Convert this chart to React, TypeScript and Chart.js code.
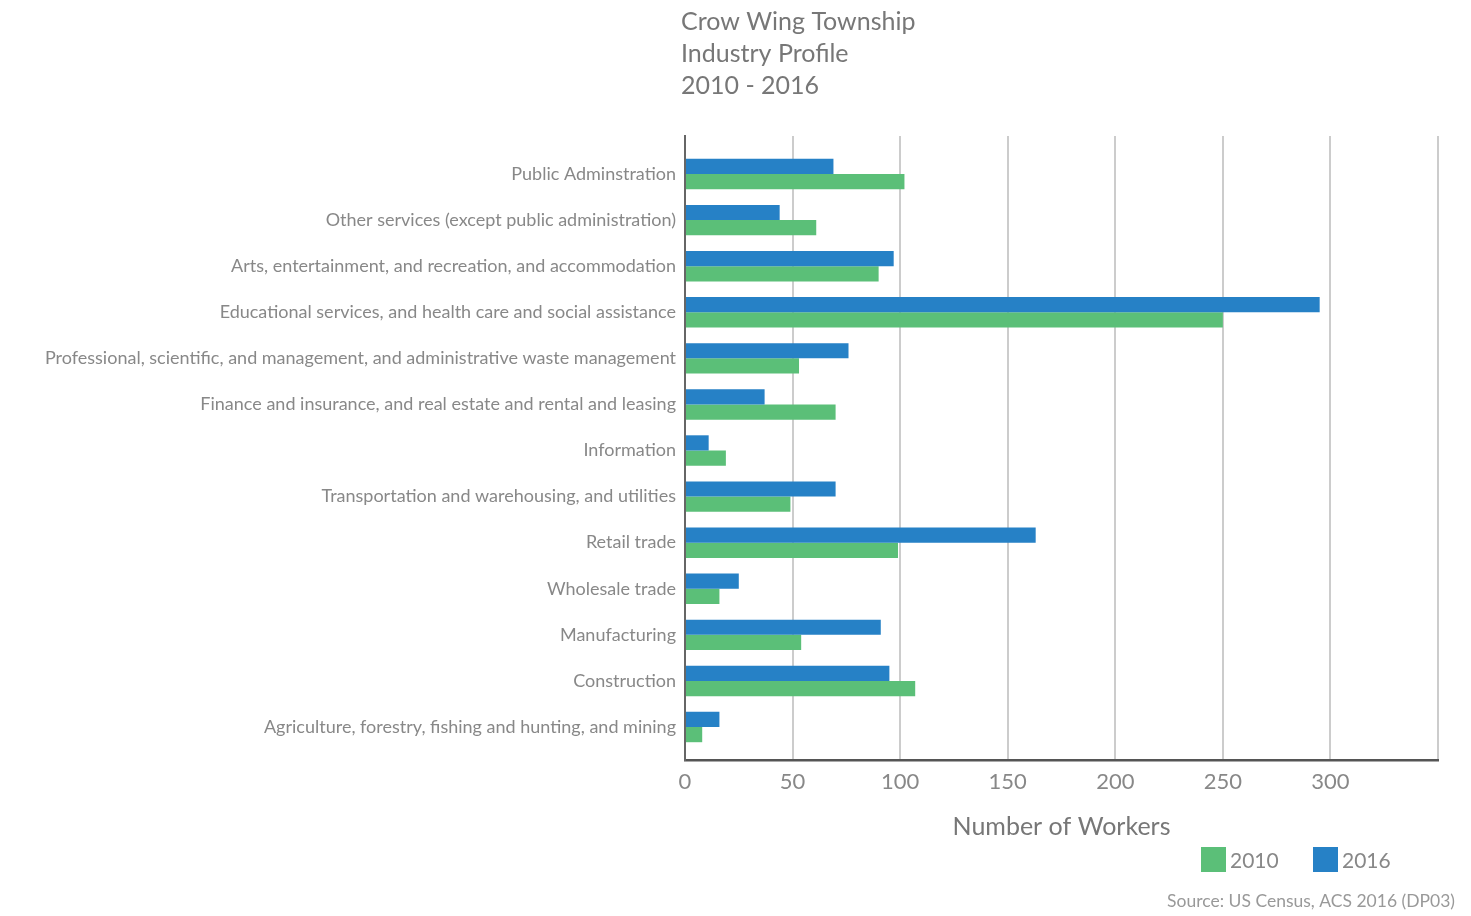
import React, { useEffect, useRef } from "react";
import { Chart, registerables } from "chart.js";

Chart.register(...registerables);

const categories = [
  "Public Adminstration",
  "Other services (except public administration)",
  "Arts, entertainment, and recreation, and accommodation",
  "Educational services, and health care and social assistance",
  "Professional, scientific, and management, and administrative waste management",
  "Finance and insurance, and real estate and rental and leasing",
  "Information",
  "Transportation and warehousing, and utilities",
  "Retail trade",
  "Wholesale trade",
  "Manufacturing",
  "Construction",
  "Agriculture, forestry, fishing and hunting, and mining",
];

const values2016 = [69, 44, 97, 295, 76, 37, 11, 70, 163, 25, 91, 95, 16];
const values2010 = [102, 61, 90, 250, 53, 70, 19, 49, 99, 16, 54, 107, 8];

const xTicks = [0, 50, 100, 150, 200, 250, 300, 350];
const titleLines = ["Crow Wing Township", "Industry Profile", "2010 - 2016"];
const legendItems = ["2010", "2016"];
const sourceText = "Source: US Census, ACS 2016 (DP03)";

const BLUE = "#2681c6";
const GREEN = "#5bbf78";
const FONT = "Lato, 'Open Sans', sans-serif";

const decorPlugin = {
  id: "decor",
  afterDraw(chart: any) {
    const ctx = chart.ctx;
    const area = chart.chartArea;
    ctx.save();
    // title
    ctx.fillStyle = "#777777";
    ctx.font = `25px ${FONT}`;
    ctx.textAlign = "left";
    ctx.textBaseline = "middle";
    titleLines.forEach((t, i) => ctx.fillText(t, area.left - 4, 22 + i * 32));
    // legend
    const colors = [GREEN, BLUE];
    const xs = [1201, 1313];
    legendItems.forEach((t, i) => {
      ctx.fillStyle = colors[i];
      ctx.fillRect(xs[i], 847, 25, 25);
      ctx.fillStyle = "#888888";
      ctx.font = `21px ${FONT}`;
      ctx.textAlign = "left";
      ctx.textBaseline = "middle";
      ctx.fillText(t, xs[i] + 29, 861);
    });
    // source
    ctx.fillStyle = "#999999";
    ctx.font = `17.5px ${FONT}`;
    ctx.textAlign = "right";
    ctx.textBaseline = "middle";
    ctx.fillText(sourceText, 1455, 901);
    ctx.restore();
  },
};

export default function App() {
  const ref = useRef<HTMLCanvasElement>(null);
  useEffect(() => {
    document.body.style.margin = "0";
    const canvas = ref.current!;
    const chart = new Chart(canvas, {
      type: "bar",
      data: {
        datasets: [
          {
            label: "2016",
            data: values2016.map((v, i) => ({ x: v, y: i })),
            backgroundColor: BLUE,
            categoryPercentage: 0.66,
            barPercentage: 1.0,
          },
          {
            label: "2010",
            data: values2010.map((v, i) => ({ x: v, y: i })),
            backgroundColor: GREEN,
            categoryPercentage: 0.66,
            barPercentage: 1.0,
          },
        ],
      },
      options: {
        indexAxis: "y",
        animation: false,
        responsive: false,
        layout: { padding: { left: 0, right: 33, top: 136, bottom: 74 } },
        plugins: {
          legend: { display: false },
          title: { display: false },
          tooltip: { enabled: false },
        },
        scales: {
          x: {
            type: "linear",
            min: 0,
            max: 350,
            afterBuildTicks: (scale: any) => {
              scale.ticks = xTicks.map((v) => ({ value: v }));
            },
            afterFit: (scale: any) => {
              scale.height = 82;
            },
            ticks: {
              padding: 9,
              color: "#888888",
              font: { family: FONT, size: 22 },
              callback: (v: any) => (v === 350 ? "" : String(v)),
            },
            grid: { color: "#cccccc", lineWidth: 2, drawTicks: false },
            border: { display: true, color: "#555555", width: 2.5 },
            title: {
              display: true,
              text: "Number of Workers",
              color: "#777777",
              font: { family: FONT, size: 25 },
              padding: { top: 0, bottom: 0 },
            },
          },
          y: {
            type: "linear",
            reverse: true,
            offset: false,
            min: -0.825,
            max: 12.716,
            afterBuildTicks: (scale: any) => {
              scale.ticks = categories.map((_, i) => ({ value: i }));
            },
            afterFit: (scale: any) => {
              scale.width = 685;
            },
            ticks: {
              padding: 9,
              color: "#888888",
              font: { family: FONT, size: 18 },
              callback: (v: any) => categories[v as number] ?? "",
            },
            grid: { display: false, drawTicks: false, offset: false },
            border: { display: true, color: "#666666", width: 2 },
          },
        },
      },
      plugins: [decorPlugin],
    } as any);
    return () => chart.destroy();
  }, []);
  return <canvas ref={ref} width={1471} height={916} style={{ display: "block" }} />;
}
